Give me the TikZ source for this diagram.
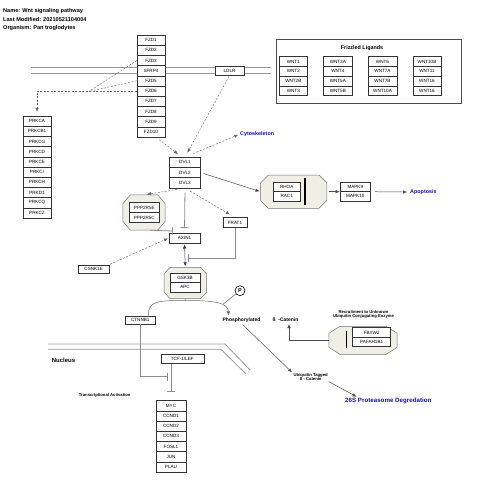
\documentclass[tikz,border=0pt]{standalone}
\usepackage{fontspec}
\setmainfont{Liberation Sans}
\usetikzlibrary{arrows.meta,calc}
\newcommand\gf{\fontsize{4.6}{5}\selectfont}
\newcommand\hf{\fontsize{5.6}{6}\selectfont\bfseries}
\newcommand\smlf{\fontsize{4.2}{5}\selectfont\bfseries}
\definecolor{octfill}{RGB}{240,239,229}
\definecolor{bluetxt}{RGB}{20,20,150}
\newcommand\ocpath[3]{\draw[octline] ($(#1.north west)+(#2,0)$) -- ($(#1.north east)+(-#2,0)$) -- ($(#1.north east)+(0,#3)$) -- ($(#1.south east)+(0,-#3)$) -- ($(#1.south east)+(-#2,0)$) -- ($(#1.south west)+(#2,0)$) -- ($(#1.south west)+(0,-#3)$) -- ($(#1.north west)+(0,#3)$) -- cycle;}
\begin{document}
\begin{tikzpicture}[x=1pt,y=-1pt,
  gene/.style={draw=black!80, line width=0.45pt, fill=white, inner sep=0pt, minimum height=10.2pt, font=\gf},
  octo/.style={inner sep=0pt},
  octline/.style={draw=black!55, fill=octfill, line width=0.5pt},
  dasharrow/.style={draw=black!60, dash pattern=on 2pt off 1.5pt, line width=0.45pt, -{Latex[length=4pt,width=3.5pt]}},
  dashline/.style={draw=black!60, dash pattern=on 2pt off 1.5pt, line width=0.45pt},
  solidarrow/.style={draw=black!70, line width=0.5pt, -{Latex[length=4pt,width=3.5pt]}},
  inhib/.style={draw=black!45, line width=0.8pt, -{Bar[width=8pt,line width=0.8pt]}},
  membrane/.style={draw=black!40, line width=0.8pt},
  lbl/.style={inner sep=0pt, font=\smlf, align=center},
  bluelbl/.style={inner sep=0pt, font=\fontsize{5.4}{6}\selectfont\bfseries, text=bluetxt},
  hdr/.style={inner sep=0pt, anchor=west, font=\hf}]
\useasboundingbox (0,0) rectangle (480,492);

% header
\node[hdr] (hname) at (3,11.5) {Name: Wnt signaling pathway};
\node[hdr] (hmod) at (3,19.5) {Last Modified: 20210521104004};
\node[hdr] (horg) at (3,28.5) {Organism: Pan troglodytes};

% cell membrane
\draw[membrane] (31,67) -- (271,67);
\draw[membrane] (31,73) -- (271,73);

% nuclear membrane
\draw[membrane] (48,344) -- (225,344) -- (250,370);
\draw[membrane] (48,349.3) -- (221,349.3) -- (246,374);

% FZD stack
\foreach \t [count=\i] in {FZD1,FZD2,FZD3,SFRP4,FZD5,FZD6,FZD7,FZD8,FZD9,FZD10}
  \node[gene, minimum width=28pt] (fzd\i) at (151,{35+10.2*(\i-0.5)}) {\t};

% PRKC stack
\foreach \t [count=\i] in {PRKCA,PRKCB1,PRKCG,PRKCD,PRKCE,PRKCI,PRKCH,PRKD1,PRKCQ,PRKCZ}
  \node[gene, minimum width=28pt] (prk\i) at (37,{116+10.2*(\i-0.5)}) {\t};

% LDLR
\node[gene, minimum width=29pt, minimum height=9.5pt] (ldlr) at (229.5,70.5) {LDLR};

% Frizzled ligands group
\node[draw=black!70, line width=0.5pt, fill=white, minimum width=185pt, minimum height=64pt, inner sep=0pt] (fzgroup) at (368.5,71) {};
\node[inner sep=0pt, font=\fontsize{5.4}{6}\selectfont\bfseries] (fztitle) at (362,48.5) {Frizzled Ligands};
\foreach \t [count=\i] in {WNT1,WNT2,WNT2B,WNT3}
  \node[gene, minimum width=28.5pt, minimum height=9.75pt] (wa\i) at (293.3,{56.7+9.75*(\i-0.5)}) {\t};
\foreach \t [count=\i] in {WNT3A,WNT4,WNT5A,WNT5B}
  \node[gene, minimum width=28.5pt, minimum height=9.75pt] (wb\i) at (337.8,{56.7+9.75*(\i-0.5)}) {\t};
\foreach \t [count=\i] in {WNT6,WNT7A,WNT7B,WNT10A}
  \node[gene, minimum width=28.5pt, minimum height=9.75pt] (wc\i) at (382.5,{56.7+9.75*(\i-0.5)}) {\t};
\foreach \t [count=\i] in {WNT10B,WNT11,WNT16,WNT16}
  \node[gene, minimum width=28.5pt, minimum height=9.75pt] (wd\i) at (427,{56.7+9.75*(\i-0.5)}) {\t};

% DVL stack
\foreach \t [count=\i] in {DVL1,DVL2,DVL3}
  \node[gene, minimum width=31pt] (dvl\i) at (185,{157.3+10.2*(\i-0.5)}) {\t};

% octagons
\node[octo, minimum width=42pt, minimum height=35pt] (pppoct) at (144,212.5) {};
\ocpath{pppoct}{7.5}{9}
\node[gene, minimum width=30pt, minimum height=10pt] (ppp5e) at (144.3,207.7) {PPP2R5E};
\node[gene, minimum width=30pt, minimum height=10pt] (ppp5c) at (144.3,217.7) {PPP2R5C};

\node[octo, minimum width=66pt, minimum height=33pt] (rhooct) at (293.7,191.7) {};
\ocpath{rhooct}{8}{8}
\node[gene, minimum width=26.7pt, minimum height=9.5pt] (rhoa) at (286.7,186.5) {RHOA};
\node[gene, minimum width=26.7pt, minimum height=9.5pt] (rac1) at (286.7,196) {RAC1};
\draw[line width=1.4pt] (305,178.3) -- (305,205);

\node[octo, minimum width=42pt, minimum height=31pt] (gskoct) at (185.3,283) {};
\ocpath{gskoct}{6}{6.5}
\node[gene, minimum width=30pt, minimum height=9.7pt] (gsk3b) at (185,277.6) {GSK3B};
\node[gene, minimum width=30pt, minimum height=9.7pt] (apc) at (185,287.3) {APC};

\node[octo, minimum width=68pt, minimum height=27.5pt] (fbxoct) at (363,340.3) {};
\ocpath{fbxoct}{11}{7}
\node[gene, minimum width=38pt, minimum height=9.5pt] (fbxw2) at (371.7,332.4) {FBXW2};
\node[gene, minimum width=38pt, minimum height=9.5pt] (pafah) at (371.7,341.9) {PAFAH1B1};
\draw[line width=1.4pt] (346.7,330.7) -- (346.7,348.3);

% other genes
\node[gene, minimum width=31pt, minimum height=9.5pt] (axin1) at (184.5,238) {AXIN1};
\node[gene, minimum width=24pt, minimum height=10pt] (frat1) at (235,222.7) {FRAT1};
\node[gene, minimum width=30.7pt, minimum height=8.5pt] (csnk1e) at (93.7,269) {CSNK1E};
\node[gene, minimum width=30.7pt, minimum height=9.5pt] (mapk9) at (355.3,186.5) {MAPK9};
\node[gene, minimum width=30.7pt, minimum height=9.5pt] (mapk10) at (355.3,196) {MAPK10};
\node[gene, minimum width=30.7pt, minimum height=8.5pt] (ctnnb1) at (140.3,320) {CTNNB1};
\node[gene, minimum width=43pt, minimum height=9pt] (tcf) at (182.3,358.8) {TCF-1/LEF};
\foreach \t [count=\i] in {MYC,CCND1,CCND2,CCND3,FOSL1,JUN,PLAU}
  \node[gene, minimum width=30pt] (tg\i) at (171,{400.7+10.2*(\i-0.5)}) {\t};

% labels
\node[bluelbl, anchor=west] (cyto) at (240,134) {Cytoskeleton};
\node[bluelbl, anchor=west] (apop) at (410,192) {Apoptosis};
\node[inner sep=0pt, font=\fontsize{6.2}{7}\selectfont\bfseries, text=bluetxt] (deg) at (388.3,400.7) {26S Proteasome Degredation};
\node[draw=black, line width=0.6pt, circle, minimum size=10pt, inner sep=0pt, font=\fontsize{5.5}{6}\selectfont\bfseries] (pcirc) at (240,290.7) {P};
\node[inner sep=0pt, font=\fontsize{5}{6}\selectfont\bfseries] (phos) at (241.5,320) {Phosphorylated};
\node[inner sep=0pt, font=\fontsize{5}{6}\selectfont\bfseries] (bcat) at (285.5,320) {ß\ \ -Catenin};
\node[lbl] (recruit) at (363.5,314.5) {Recruitment to Unknown\\[-0.6pt]Ubiquitin Conjugating Enzyme};
\node[lbl] (ubiq) at (310.7,376.7) {Ubiquitin Tagged\\[-0.6pt]ß - Catenin};
\node[inner sep=0pt, font=\fontsize{6}{7}\selectfont\bfseries] (nucleus) at (63.5,360) {Nucleus};
\node[lbl] (transc) at (104.7,395) {Transcriptional Activation};

% connectors
\coordinate (jn) at (89,91.4);
\draw[dashline] (fzd3.west) -- (jn);
\draw[dashline] (fzd5.west) -- (jn);
\draw[dasharrow, shorten >=4pt] (fzd6.west) -| (prk1.north);
\draw[dasharrow, shorten <=4pt, shorten >=5pt] ([xshift=5pt]fzd10.south) -- ([xshift=-3pt]dvl1.north);
\draw[dasharrow, shorten <=1pt, shorten >=5pt] (ldlr.south) -- (dvl1.north);
\draw[dasharrow, shorten <=9pt, shorten >=2pt] (dvl1.north) -- (cyto.west);
\draw[solidarrow, shorten <=3pt, shorten >=1pt] (dvl2.east) -- (rhooct.west);
\draw[dasharrow, shorten <=8pt, shorten >=3pt] (dvl3.south) -- (pppoct.north);
\draw[dasharrow, shorten <=6pt, shorten >=6pt] (dvl3.south) -- (frat1.north);
\draw[inhib, shorten <=4.5pt, shorten >=5pt] (dvl3.south) -- (axin1.north);
\draw[inhib, shorten >=0pt] ([xshift=6pt]pppoct.south) -- ([xshift=4pt,yshift=2pt]axin1.north west);
\draw[dasharrow, shorten <=1pt, shorten >=1pt] (csnk1e.north east) -- (axin1.west);
\coordinate (fratend) at (188.3,258.3);
\draw[inhib] (frat1.south) |- (fratend);
\draw[draw=black!80, line width=0.5pt, {Latex[length=4pt,width=3.5pt]}-{Latex[length=4pt,width=3.5pt]}, shorten <=1.5pt, shorten >=1pt] (axin1.south) -- (gskoct.north);
\coordinate (peak) at (185,300.5);
\draw[draw=black!60, line width=0.5pt] (gskoct.south) -- (peak);
\draw[draw=black!60, line width=0.5pt, -{Latex[length=4pt,width=3.5pt]}] ([xshift=8pt]ctnnb1.north) .. controls (148,301) and (158,300.5) .. (peak) .. controls (212,300.5) and (228.3,302) .. ([xshift=-13pt,yshift=2pt]phos.north);
\coordinate (pjoin) at (223.3,304);
\draw[draw=black!60, line width=0.5pt] (pcirc) -- (pjoin);
\draw[solidarrow, shorten <=3pt, shorten >=2pt] ([xshift=-1pt]phos.south) -- ([yshift=-1pt]ubiq.north west);
\draw[solidarrow, shorten <=2pt, shorten >=2pt] ([xshift=-1pt]ubiq.south east) -- ([xshift=-30pt]deg.north);
\draw[solidarrow, shorten >=2pt] (fbxoct.west) -| ([xshift=3.5pt]bcat.south);
\draw[solidarrow, shorten <=2pt] (rhooct.east) -- (mapk9.west |- rhooct.east);
\draw[solidarrow, shorten <=4pt, shorten >=3pt] (mapk9.east |- rhooct.east) -- (apop.west);
\coordinate (ctend) at (167.5,376.7);
\draw[inhib] (ctnnb1.south) |- (ctend);
\draw[inhib, shorten >=9pt] (tg1.north |- tcf.south) -- (tg1.north);
\end{tikzpicture}
\end{document}
